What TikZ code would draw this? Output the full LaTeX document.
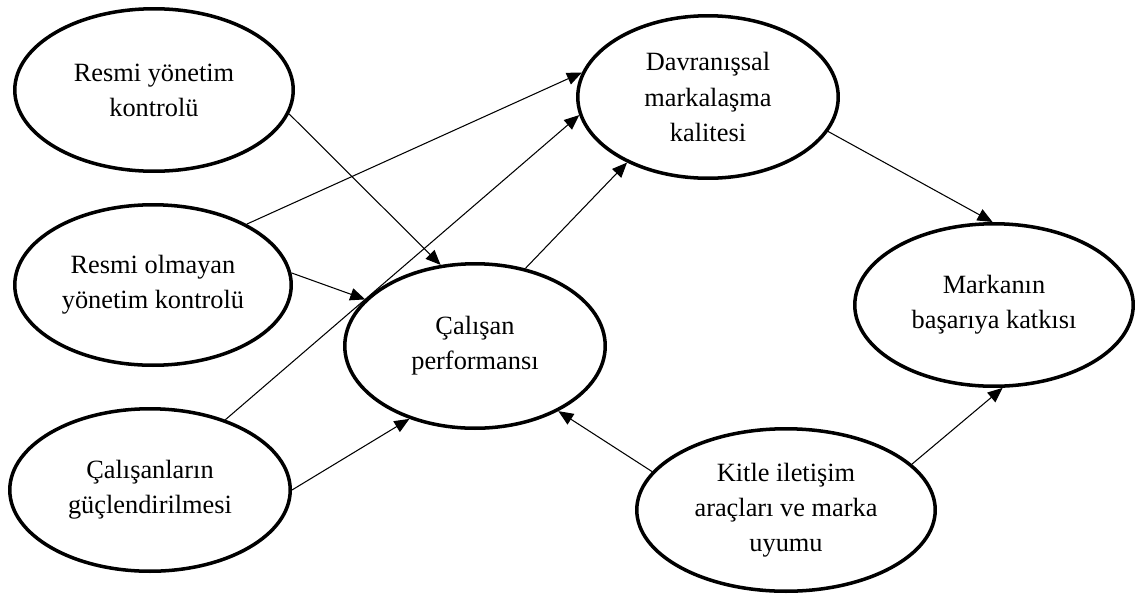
\documentclass[tikz,border=0pt]{standalone}
\usepackage{fontspec}
\setmainfont{Liberation Serif}
\usetikzlibrary{shapes.geometric,arrows.meta}

\begin{document}
\begin{tikzpicture}[x=0.02cm,y=-0.02cm,
  construct/.style={ellipse,draw,line width=2pt,inner sep=0pt,align=center,
    minimum width=5.57cm,minimum height=3.25cm,font=\fontsize{15}{20}\selectfont},
  link/.style={-{Triangle[length=0.3cm,width=0.25cm]},line width=0.6pt}]
  \useasboundingbox (0,0) rectangle (1136,596);
  % constructs
  \node[construct] (rym) at (154,90) {Resmi yönetim\\kontrolü};
  \node[construct,minimum width=5.53cm,minimum height=3.21cm] (rom) at (153,285) {Resmi olmayan\\yönetim kontrolü};
  \node[construct,minimum width=5.61cm] (cg) at (150,490) {Çalışanların\\güçlendirilmesi};
  \node[construct,minimum width=5.21cm,minimum height=3.29cm] (cp) at (475,346) {Çalışan\\performansı};
  \node[construct,minimum width=5.21cm] (dmk) at (708,97) {Davranışsal\\markalaşma\\kalitesi};
  \node[construct] (mbk) at (994,305) {Markanın\\başarıya katkısı};
  \node[construct,minimum width=5.97cm] (kia) at (786,510) {Kitle iletişim\\araçları ve marka\\uyumu};
  % paths
  \draw[link] (rym.-10) -- (cp.113);
  \draw[link] (rom.33) -- (dmk.169);
  \draw[link] (rom.5) -- (cp.157);
  \draw[link] (cg.43) -- (dmk.188);
  \draw[link] (cg.0) -- (cp.228);
  \draw[link] (cp.57) -- (dmk.219);
  \draw[link] (kia.164) -- (cp.-38);
  \draw[link] (dmk.-16) -- (mbk.91);
  \draw[link] (kia.20) -- (mbk.276);
\end{tikzpicture}
\end{document}
